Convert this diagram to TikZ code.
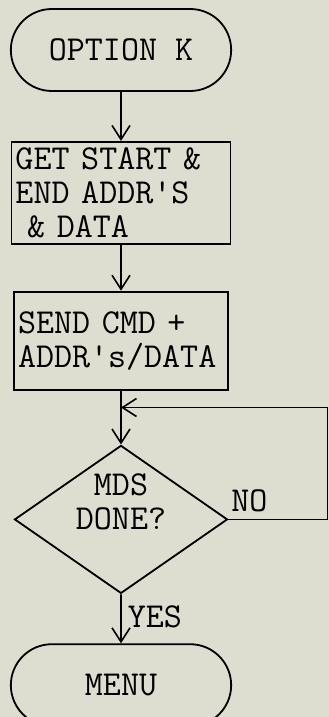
\documentclass[tikz,border=0pt]{standalone}
\usetikzlibrary{positioning,shapes.geometric,shapes.misc,arrows.meta}
\definecolor{paper}{RGB}{221,221,208}
\newcommand{\OptKFont}{\fontsize{35}{34}\selectfont\ttfamily}
\tikzset{
	flow/.style={line width=1.8pt},
	arr/.style={flow, -{Straight Barb[length=14pt,width=18pt,line width=1.6pt]}},
	termnode/.style={flow, draw, rounded rectangle, minimum width=227pt, minimum height=82pt, font=\OptKFont},
	procnode/.style={flow, draw, rectangle, align=left, inner xsep=4pt, inner ysep=0pt, font=\OptKFont},
	decnode/.style={flow, draw, diamond, minimum width=213pt, minimum height=148pt, inner sep=0pt},
	flowtag/.style={font=\OptKFont, inner sep=2pt},
}

\begin{document}
\begin{tikzpicture}
		\fill[paper] (0pt,0pt) rectangle (329pt,-717pt);
		\useasboundingbox (0pt,0pt) rectangle (329pt,-717pt);
		\node[termnode] (start) at (121pt,-50pt) {OPTION K};
		\node[procnode, text width=211pt, minimum height=102pt, below=49pt of start] (getaddr) {GET START \&\\END ADDR'S\\~\& DATA};
		\node[procnode, text width=206pt, minimum height=98pt, below=46pt of getaddr] (send) {SEND CMD +\\ADDR's/DATA};
		\node[decnode, below=54pt of send, label={[flowtag, align=center, yshift=18pt]center:MDS\\DONE?}] (done) {};
		\node[termnode, below=49pt of done] (menu) {MENU};
		\coordinate[below=17pt of send.south] (rejoin);
		\draw[arr] (start) -- (getaddr);
		\draw[arr] (getaddr) -- (send);
		\draw[arr] (send) -- (done);
		\draw[arr] (done.east) -- ++(99pt,0) node[pos=0, flowtag, anchor=south west, yshift=5pt] {NO} |- (rejoin);
		\draw[arr] (done) -- node[flowtag, right, pos=0.45, xshift=4pt] {YES} (menu);
	\end{tikzpicture}
\end{document}
